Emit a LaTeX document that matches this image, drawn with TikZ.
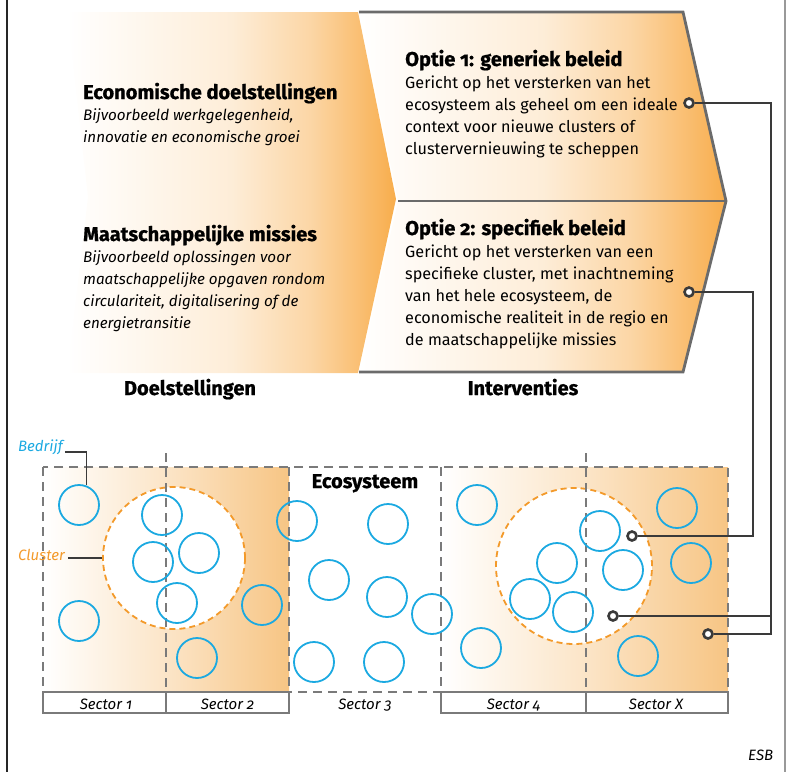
\documentclass[tikz,border=0pt]{standalone}
\usepackage{fontspec}
\setmainfont{Fira Sans}[Numbers=OldStyle]
\newfontfamily\headfont{Fira Sans}[Numbers=OldStyle, BoldFeatures={FakeBold=0.8}]
\usetikzlibrary{calc}
\definecolor{chevor}{HTML}{F8AD4C}
\definecolor{ecoor}{HTML}{F7C584}
\definecolor{bblue}{HTML}{1BA9E1}
\definecolor{clor}{HTML}{F39A2B}
\definecolor{outl}{HTML}{6B6B6B}
\definecolor{dgray}{HTML}{7A7A7A}
\definecolor{conn}{HTML}{3A3A3A}
\colorlet{chevmid}{chevor!22!white}
\colorlet{chevmid2}{chevor!50!white}
\colorlet{ecomid}{ecoor!45!white}
\pgfdeclarehorizontalshading{chev}{100bp}{color(0bp)=(white); color(25bp)=(white); color(50bp)=(chevmid); color(62bp)=(chevmid2); color(75bp)=(chevor); color(100bp)=(chevor)}
\pgfdeclarehorizontalshading{eco}{100bp}{color(0bp)=(white); color(25bp)=(white); color(50bp)=(ecomid); color(75bp)=(ecoor); color(100bp)=(ecoor)}
\begin{document}
\begin{tikzpicture}[x=1pt,y=-1pt,
  head/.style={font=\headfont\bfseries\fontsize{20}{22}\selectfont, inner sep=0, anchor=base west},
  body/.style={font=\fontsize{16.2}{22}\selectfont, align=left, inner sep=0, anchor=base west},
  itbody/.style={font=\itshape\fontsize{15.2}{21.7}\selectfont, align=left, inner sep=0, anchor=base west},
  bedrijf/.style={circle, draw=bblue, line width=1.8, minimum size=40, inner sep=0},
  clus/.style={circle, draw=clor, dash pattern=on 6 off 4, line width=1.8, fill=white, inner sep=0},
  dashln/.style={draw=dgray, dash pattern=on 9 off 6, line width=1.5},
  secbox/.style={draw=dgray, line width=1.2, fill=white},
  seclab/.style={font=\itshape\fontsize{15}{18}\selectfont, inner sep=0, anchor=base},
  dot/.style={circle, draw=conn, line width=2.6, fill=white, minimum size=9, inner sep=0},
  connln/.style={draw=conn, line width=2.5},
  chevln/.style={draw=outl, line width=2.8}
]
\useasboundingbox (0,0) rectangle (790,772);
% frame
\draw[line width=1.3, color=black!85] (7,0) -- (7,772);
\draw[line width=1.3, color=black!40] (785,0) -- (785,772);

% left chevron
\shade[shading=chev] (67,12) -- (358,12) -- (396,199) -- (358,373) -- (67,373) -- (88,197) -- cycle;
% right chevron halves
\shade[shading=chev] (359,12) -- (683,12) -- (726,201) -- (398,201) -- cycle;
\shade[shading=chev] (398,201) -- (726,201) -- (683,372) -- (359,372) -- cycle;
\draw[chevln] (359,12) -- (683,12) -- (726,201) -- (683,372) -- (359,372);
\draw[chevln] (398,201) -- (726,201);

% left texts (multi-line nodes anchored at the baseline of their last line)
\node[head] (h1) at (83,99) {Economische doelstellingen};
\node[itbody] (t1) at (83,142) {Bijvoorbeeld werkgelegenheid,\\innovatie en economische groei};
\node[head] (h2) at (83,241) {Maatschappelijke missies};
\node[itbody] (t2) at (83,328) {Bijvoorbeeld oplossingen voor\\maatschappelijke opgaven rondom\\circulariteit, digitalisering of de\\energietransitie};
% right texts
\node[head] (h3) at (405,66) {Optie 1: generiek beleid};
\node[body] (t3) at (405,154) {Gericht op het versterken van het\\ecosysteem als geheel om een ideale\\context voor nieuwe clusters of\\clustervernieuwing te scheppen};
\node[head] (h4) at (405,235) {Optie 2: specifiek beleid};
\node[body] (t4) at (405,345) {Gericht op het versterken van een\\specifieke cluster, met inachtneming\\van het hele ecosysteem, de\\economische realiteit in de regio en\\de maatschappelijke missies};
\node[head, anchor=base] (doel) at (190,395) {Doelstellingen};
\node[head, anchor=base] (interv) at (523,395) {Interventies};

% ecosystem shading
\shade[shading=eco] (43,467) rectangle (289,692);
\shade[shading=eco] (441,467) rectangle (728,692);
\draw[dashln] (43,467) rectangle (728,692);
\draw[dashln] (289,467) -- (289,692);
\draw[dashln] (441,467) -- (441,692);

% clusters
\node[clus, minimum size=142] (cl1) at (174,558) {};
\node[clus, minimum size=156] (cl2) at (574,566) {};
\draw[dashln, line width=1.2] (166,453) -- (166,692);
\draw[dashln, line width=1.2] (586,453) -- (586,692);

% companies
\foreach \n/\p in {1/{79,505}, 2/{162,515}, 3/{153,562}, 4/{199,553}, 5/{177,603}, 6/{79,621}, 7/{262,605}, 8/{197,658},
  9/{297,521}, 10/{388,524}, 11/{329,580}, 12/{387,597}, 13/{432,614}, 14/{314,662}, 15/{384,662},
  16/{477,505}, 17/{481,648}, 18/{557,563}, 19/{530,599}, 20/{573,612}, 21/{600,531}, 22/{623,570},
  23/{677,508}, 24/{691,563}, 25/{638,656}}
  \node[bedrijf] (b\n) at (\p) {};

% sector boxes
\draw[secbox] (43,692) rectangle (166,713);
\draw[secbox] (166,692) rectangle (289,713);
\draw[secbox] (441,692) rectangle (586,713);
\draw[secbox] (586,692) rectangle (728,713);
\node[seclab] (s1) at (106,709) {Sector 1};
\node[seclab] (s2) at (227.5,709) {Sector 2};
\node[seclab] (s3) at (365,709) {Sector 3};
\node[seclab] (s4) at (513.5,709) {Sector 4};
\node[seclab] (sx) at (656,709) {Sector X};

\node[head, anchor=base] (eco) at (365,488) {Ecosysteem};

% labels
\node[font=\itshape\fontsize{15}{18}\selectfont, text=bblue, inner sep=0, anchor=base west] (lbed) at (18,451) {Bedrijf};
\node[font=\itshape\fontsize{15}{18}\selectfont, text=clor, inner sep=0, anchor=base west] (lclu) at (18,560) {Cluster};
\draw[line width=1.2, color=conn] ([xshift=2pt,yshift=-1pt]lbed.base east) -| (b1.70);
\draw[line width=1.2, color=conn] ([xshift=3pt]lclu.east |- cl1.west) -- (cl1.west);

\node[font=\itshape\fontsize{15}{18}\selectfont, inner sep=0, anchor=base west] (esb) at (748,760) {ESB};

% connectors
\node[dot] (o1) at (689,103) {};
\node[dot] (o2) at (689,292) {};
\node[dot] (d1) at (632,536) {};
\node[dot] (d2) at (613,616) {};
\node[dot] (d3) at (708,634) {};
\coordinate (j1) at (771,103);
\coordinate (j2) at (753,292);
\draw[connln] (o1) -- (j1) |- (d3);
\draw[connln] (j1 |- d2) -- (d2);
\draw[connln] (o2) -- (j2) |- (d1);
\end{tikzpicture}
\end{document}
